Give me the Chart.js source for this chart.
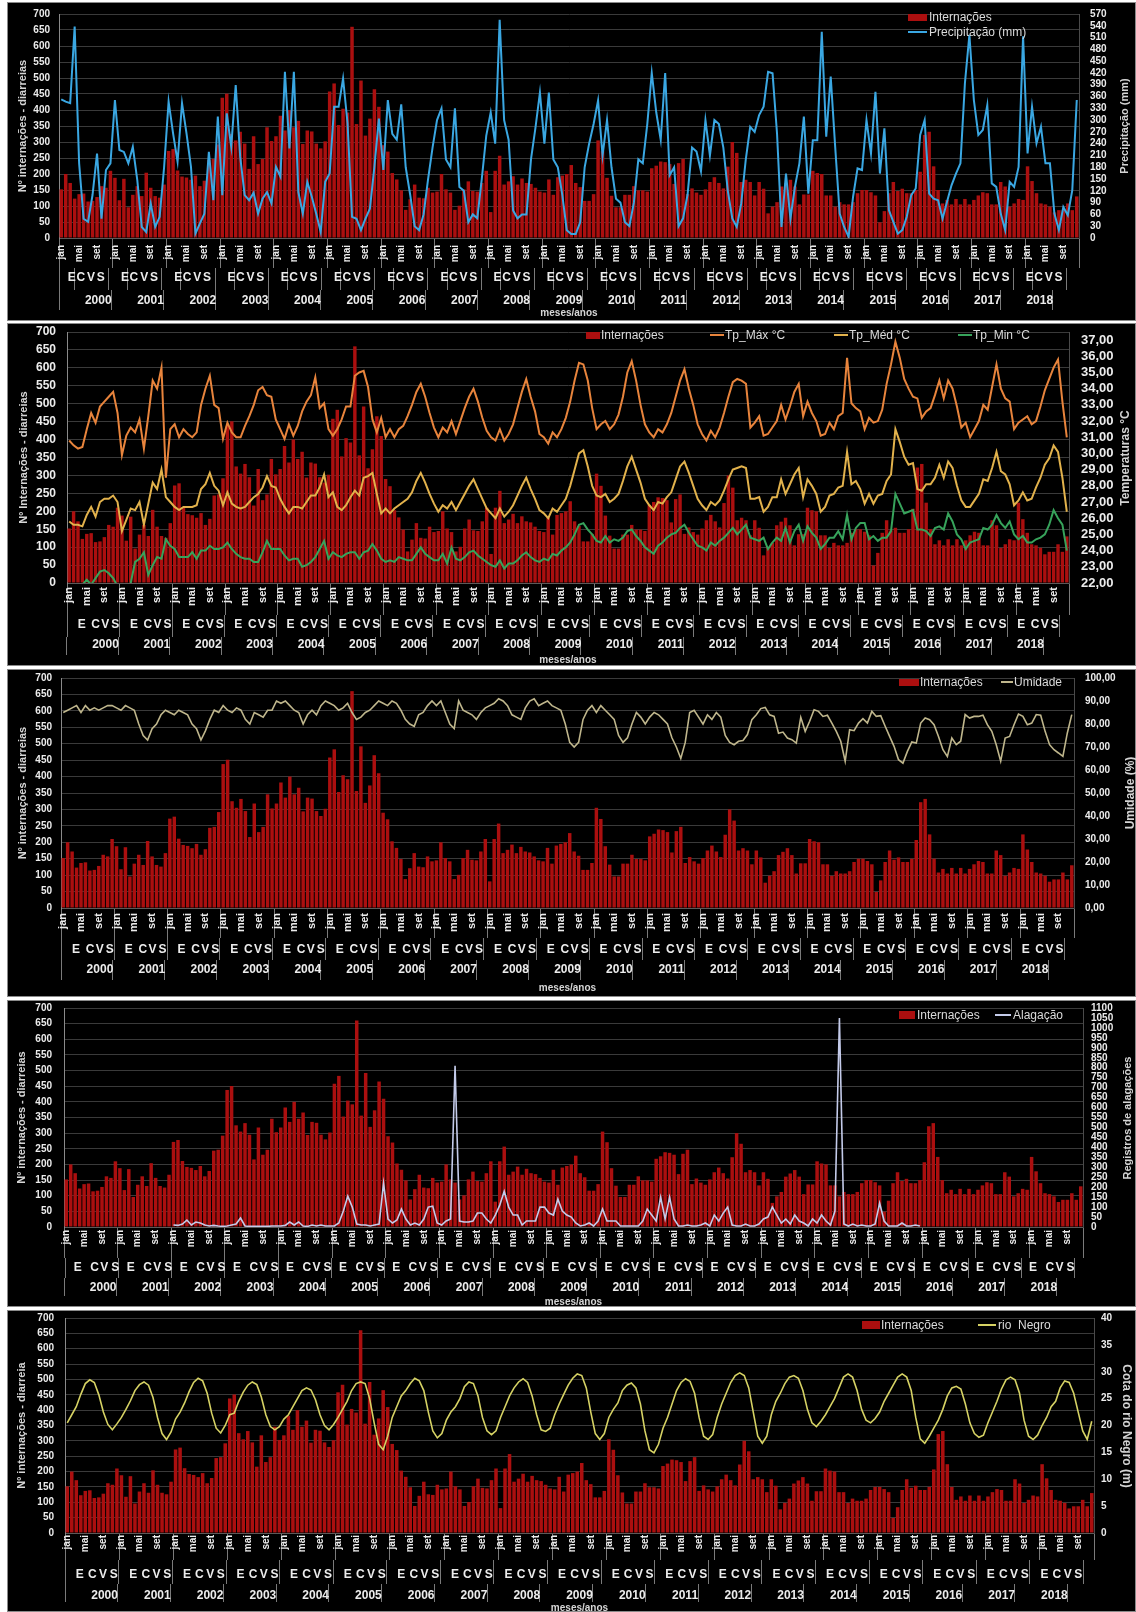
<!DOCTYPE html>
<html lang="pt">
<head>
<meta charset="utf-8">
<title>Internações por diarreia x variáveis ambientais</title>
<script src="https://cdn.jsdelivr.net/npm/chart.js@4.4.1/dist/chart.umd.min.js"></script>
<style>
  html, body { margin:0; padding:0; background:#ffffff; }
  #page { position:relative; width:1136px; height:1612px; overflow:hidden; background:#ffffff;
          font-family:"Liberation Sans", Arial, Helvetica, sans-serif; }
  .panel { position:absolute; left:7px; width:1129px; background:#000; overflow:hidden; }
  .panel canvas { position:absolute; left:0; top:0; }
  .frame { position:absolute; left:0; top:0; right:0; bottom:0; border:1px solid #8a8a8a; pointer-events:none; }
  .legtxt { position:absolute; color:#dadada; font-size:12px; line-height:14px; white-space:pre; }
  .legsw { position:absolute; }
  .rtitle { position:absolute; color:#d4d4d4; font-weight:bold; white-space:nowrap;
            transform:translate(-50%,-50%) rotate(-90deg); }
</style>
</head>
<body>
<div id="page"></div>
<script>
// ======================= DATA =======================
const years = ['2000','2001','2002','2003','2004','2005','2006','2007','2008','2009',
               '2010','2011','2012','2013','2014','2015','2016','2017','2018'];
const monthNames = ['jan','fev','mar','abr','mai','jun','jul','ago','set','out','nov','dez'];
const shownMonths = ['jan','mai','set'];
const seasonLetters = ['E','C','V','S'];

const seriesInternacoes = 'Internações';

// Nº de internações por diarreia (mensal, jan/2000 – dez/2018)
const internacoes = [
  152,200,172,123,137,139,114,116,128,162,157,210,
  188,118,185, 96,135,162,131,204,157,131,126,167,
  272,278,211,192,189,182,195,162,179,244,247,292,
  438,451,325,305,332,295,216,318,231,247,346,303,
  318,382,336,400,346,366,294,336,333,295,280,302,
  458,483,353,404,392,660,356,492,320,373,465,410,
  290,270,203,183,149, 88,121,167,126,124,157,142,
  145,200,152,142, 88,101,152,177,147,145,172,210,
   81,210,257,167,177,193,167,186,172,169,157,145,
  142,183,135,190,195,200,228,172,159,116,116,137,
  305,271,188,132, 96, 96,135,135,162,149,149,145,
  218,226,239,237,231,169,234,247,137,155,142,135,
  152,175,190,172,155,223,300,266,175,182,175,133,
  175,154, 77, 98,112,161,171,182,161,105,136,136,
  210,203,200,133,133, 98,112,105,105,112,140,150,
  150,143,133, 49, 84,140,175,147,154,140,140,150,
  207,322,332,224,150,108,119,105,122,105,122,105,
  119,133,143,140,105,105,175,161, 98,108,122,119,
  224,178,140,108,105, 98, 80, 87, 87,108, 87,130
];

// Precipitação (mm)
const precipitacao = [
  353,347,343,538,190, 49, 41,110,215, 49,173,190,
  351,224,219,190,232,147, 28, 15, 88, 28, 54,181,
  347,266,194,343,266,181, 11, 37, 62,219, 96,309,
  109,317,232,389,207,109, 96,115, 62,100,117, 88,
  181,156,423,228,423,117, 62,143,105, 62, 15,143,
  164,334,334,406,292, 54, 49, 20, 49, 75,181,304,
  173,351,265,250,340,180,110, 30, 20, 60,150,230,
  300,330,200,180,330,130,120, 40, 60, 50,150,260,
  320,240,555,300,250, 70, 50, 60, 60,200,280,370,
  240,370,200,180,110, 20, 10, 10, 40,180,240,290,
  350,210,300,180,100, 90, 40, 30, 90,200,190,290,
  420,320,250,420,160,180, 30, 50,110,230,220,170,
  300,210,300,290,230,120, 50, 28, 88,198,283,270,
  313,334,423,419,266, 28,164, 49,130,190,309,113,
  249,249,525,258,411,232, 62, 28,  3,105,177,173,
  300,215,372,164,279, 71, 41, 11, 20, 54,109,126,
  262,300,113,100, 96, 49, 92,134,164,190,394,517,
  351,262,275,338,139,130, 62, 20,143,130,181,513,
  215,334,241,283,190,190, 62, 20, 79, 58,122,351
];

// Temperaturas (°C)
const tpMax = [
  30.8,30.5,30.3,30.4,31.5,32.5,31.9,32.9,33.2,33.5,33.8,32.5,
  29.9,31.1,31.6,31.3,32.1,30.3,32.3,34.5,34.0,35.3,28.5,31.5,
  31.8,31.0,31.5,31.2,31.0,31.3,33.0,34.0,34.8,33.0,32.8,30.9,
  31.9,31.3,31.0,31.0,31.7,32.3,33.0,33.9,34.1,33.6,33.5,32.1,
  31.5,30.9,31.8,31.1,31.7,32.6,33.2,33.6,34.7,32.8,33.1,31.5,
  31.1,31.5,32.1,32.9,32.9,34.8,35.0,35.1,34.1,32.1,31.3,32.2,
  31.0,31.5,31.0,31.5,31.7,32.3,33.0,33.8,34.3,33.5,32.5,31.6,
  31.0,31.6,31.3,32.0,31.2,32.0,32.8,33.5,34.0,33.2,32.2,31.4,
  31.0,30.8,31.5,30.8,31.2,31.8,32.8,33.8,34.6,33.5,32.6,31.2,
  31.0,30.6,31.3,31.0,31.5,32.2,33.2,34.5,35.6,35.5,34.5,32.8,
  31.5,31.8,32.0,31.5,31.8,32.4,33.5,35.0,35.7,34.5,33.0,31.8,
  31.3,31.0,31.5,31.3,31.8,32.5,33.5,34.5,35.2,34.0,33.0,31.8,
  31.2,30.8,31.4,31.0,31.6,32.5,33.5,34.4,34.6,34.5,34.3,31.6,
  31.9,32.3,31.1,31.2,31.6,32.0,33.0,32.1,32.9,33.8,34.3,32.3,
  33.2,32.5,32.0,31.1,31.2,31.9,31.5,32.3,32.5,35.9,33.1,32.8,
  32.6,31.5,32.2,31.9,32.0,32.7,34.3,35.5,36.9,35.9,34.6,34.0,
  33.5,33.4,32.2,32.6,32.8,33.6,34.5,33.4,34.5,34.0,32.9,31.6,
  31.9,31.0,31.5,32.0,33.0,32.7,34.1,35.5,34.0,33.4,33.2,31.5,
  31.9,32.1,32.3,31.8,32.0,32.9,33.9,34.6,35.3,35.8,33.2,31.0
];
const tpMed = [
  25.8,25.6,25.6,25.5,26.2,26.7,26.1,27.0,27.2,27.2,27.4,27.0,
  25.2,25.9,26.6,26.5,27.0,25.6,26.9,28.2,27.8,29.0,27.3,27.0,
  26.7,26.5,26.7,26.7,26.7,26.8,27.8,28.1,28.8,28.0,27.7,26.8,
  27.6,26.9,26.7,26.6,26.7,27.0,27.3,27.5,27.9,28.6,28.0,27.9,
  27.2,26.7,26.3,26.7,26.7,26.6,27.0,27.4,27.4,27.9,28.7,27.3,
  27.6,26.7,26.5,26.8,27.3,27.7,27.4,28.5,28.6,28.8,27.5,26.3,
  26.6,26.3,26.6,26.8,27.0,27.2,27.6,28.3,28.8,28.2,27.5,26.9,
  26.4,26.8,26.6,27.0,26.5,27.0,27.5,28.0,28.4,27.8,27.2,26.6,
  26.3,26.0,26.6,26.1,26.4,26.8,27.4,28.0,28.5,27.8,27.2,26.5,
  26.3,26.0,26.6,26.4,26.8,27.2,28.0,29.0,30.0,30.2,29.2,28.0,
  27.4,27.3,27.5,27.0,27.2,27.5,28.3,29.2,29.8,29.0,28.2,27.2,
  26.8,26.5,27.0,26.9,27.3,27.6,28.4,29.2,29.5,28.8,28.0,27.2,
  26.8,26.5,27.0,26.8,27.1,27.7,28.4,29.0,29.1,29.2,29.1,27.2,
  27.2,27.3,26.4,26.7,27.3,27.3,28.4,27.5,28.1,28.7,29.1,27.3,
  28.4,28.0,27.5,26.4,26.7,27.4,27.5,27.9,28.0,30.1,28.1,28.3,
  27.8,26.9,27.5,26.9,27.4,27.5,28.3,28.7,31.5,30.7,29.8,29.3,
  29.4,27.8,27.7,28.1,28.1,28.5,29.3,28.5,29.5,29.1,28.0,27.1,
  26.7,26.7,27.1,27.5,28.4,28.3,29.1,30.1,28.9,28.7,28.1,26.8,
  27.1,27.6,27.1,27.2,27.9,28.5,29.3,29.7,30.5,30.1,28.5,26.4
];
const tpMin = [
  21.0,21.2,21.5,21.9,22.2,21.9,22.3,22.7,22.8,22.6,22.3,21.8,
  21.4,21.7,22.0,23.3,23.5,23.9,22.5,23.1,23.6,23.5,24.7,24.3,
  24.1,23.6,23.6,23.6,23.9,23.5,24.0,24.0,24.3,24.1,24.1,24.2,
  24.5,24.1,23.8,23.6,23.5,23.5,23.3,23.3,23.9,24.6,24.1,24.1,
  24.1,23.7,23.4,23.5,23.5,23.0,23.1,23.3,23.6,24.1,24.6,23.5,
  23.9,23.7,23.6,23.8,23.9,23.9,23.5,23.9,24.0,24.4,24.0,23.5,
  23.3,23.4,23.3,23.6,23.5,23.4,23.4,23.8,24.2,23.8,23.6,23.4,
  23.4,23.8,23.2,24.2,23.5,23.4,23.6,23.9,24.0,23.7,23.5,23.3,
  23.1,23.0,23.4,22.9,23.2,23.2,23.4,23.7,23.9,23.6,23.4,23.3,
  23.5,23.4,23.8,23.7,24.0,24.2,24.5,25.0,25.6,25.7,25.3,25.0,
  24.6,24.5,24.9,24.5,24.7,24.6,24.8,25.2,25.3,24.9,24.6,24.2,
  24.0,23.8,24.3,24.5,24.8,25.0,25.1,25.4,25.6,25.1,24.7,24.3,
  24.2,24.0,24.5,24.3,24.6,24.8,25.1,25.4,25.0,25.3,25.6,24.8,
  24.7,24.6,24.8,24.1,24.5,24.8,24.6,25.4,24.5,25.2,25.6,24.6,
  25.5,25.1,24.8,24.1,24.4,24.8,24.8,25.2,24.7,26.2,24.7,25.4,
  25.7,25.7,24.7,24.9,24.6,24.8,24.8,25.2,27.5,26.9,26.3,26.4,
  26.5,25.3,25.3,25.2,24.9,25.4,25.5,25.3,26.3,25.8,25.0,24.7,
  24.1,24.5,24.6,24.7,25.4,25.3,25.6,26.2,25.7,25.4,25.8,25.0,
  24.7,24.9,24.5,24.5,24.7,24.8,25.0,25.6,26.5,26.0,25.6,24.0
];

// Umidade (%)
const umidade = [
  85,86,87,88,85,88,86,87,86,87,88,88,
  87,86,88,87,86,80,75,73,78,80,84,86,
  85,84,86,85,84,80,78,73,77,82,86,85,
  88,86,85,87,86,82,80,85,84,83,86,86,
  90,89,90,88,86,85,80,84,86,84,88,90,
  89,88,86,87,89,85,82,83,85,86,88,90,
  89,88,90,89,86,82,80,79,84,85,88,90,
  88,90,85,80,78,90,86,85,84,82,85,87,
  88,89,91,90,88,84,83,82,87,90,91,88,
  89,90,88,87,86,80,72,70,72,82,86,88,
  85,88,86,84,82,75,72,74,80,85,83,80,
  83,85,84,82,80,74,70,65,72,85,86,83,
  80,84,82,85,83,75,72,71,72.5,72.8,75.4,81.9,
  84,86.7,87.2,84,83.3,76,76.5,73.9,73.2,71.7,82.9,76.8,
  81.2,86.2,85.5,83.3,83.8,80.4,76.8,72.5,63.8,77.5,77.1,80.4,
  82.3,80.4,85.5,83.3,83.6,79,74.6,70.3,64.5,63,68.1,72.2,
  71.7,80.4,82.6,81.9,79.7,74.6,68.8,65.9,73.9,71,72.5,84.1,
  82.6,83.3,83.3,83.8,79.7,76.8,71,63.8,73.9,74.6,79.7,84.3,
  83.3,79.7,80.4,84.1,83.8,76.8,71,68.8,67.4,65.9,76.1,84.1
];

// Registros de alagações (sem registro: null)
const alagacao = [
  null,null,null,null,null,null,null,null,null,null,null,null,
  null,null,null,null,null,null,null,null,null,null,null,null,
  10,8,15,35,10,25,20,10,5,8,5,3,
  5,10,15,45,5,3,3,3,3,3,5,5,
  5,8,25,10,25,5,3,10,5,10,5,5,
  5,20,80,155,100,15,10,10,5,10,15,220,
  40,20,35,90,40,10,20,10,40,100,105,20,
  10,30,40,810,30,25,25,30,70,70,40,20,
  60,110,180,100,60,60,10,30,30,30,100,100,
  70,60,140,80,60,50,20,5,10,20,5,30,
  90,30,30,30,5,5,5,5,5,30,90,60,
  30,150,40,150,40,5,5,10,5,5,10,20,
  5,60,30,70,100,10,5,5,15,5,5,15,
  40,50,100,60,20,40,15,60,30,20,5,40,
  20,60,30,10,80,1050,15,5,15,5,10,5,
  5,15,120,30,5,5,5,20,5,5,10,5,
  null,null,null,null,null,null,null,null,null,null,null,null,
  null,null,null,null,null,null,null,null,null,null,null,null,
  null,null,null,null,null,null,null,null,null,null,null,null
];

// Cota do rio Negro (m)
const rioNegro = [
  20.5,22.0,23.5,25.8,27.8,28.5,28.0,25.7,22.5,20.2,19.2,20.3,
  21.5,23.0,24.6,26.5,27.6,28.1,27.5,25.2,21.5,18.5,17.4,18.8,
  21.2,22.5,24.2,26.3,28.0,28.8,28.3,26.0,22.3,19.5,18.6,20.0,
  22.0,22.3,24.5,26.2,27.5,28.1,27.6,25.3,22.0,19.8,19.2,19.8,
  21.2,22.0,23.5,25.0,26.5,27.0,26.6,24.8,22.0,20.0,19.2,20.2,
  21.5,23.0,24.5,26.5,27.8,28.1,27.8,25.0,20.5,16.5,15.5,18.0,
  21.5,23.5,25.5,26.5,27.8,28.8,28.3,26.5,22.5,19.0,17.7,18.5,
  21.0,22.5,23.5,25.0,27.2,28.1,27.8,25.5,21.5,19.0,18.3,19.0,
  21.5,23.5,25.5,27.0,28.1,28.7,28.0,25.5,22.0,19.2,18.9,19.5,
  22.0,24.0,25.8,27.5,28.8,29.6,29.3,27.0,22.5,18.5,17.4,18.5,
  21.5,23.0,24.2,26.5,27.5,27.9,27.0,24.0,19.0,15.5,14.9,16.5,
  19.5,21.5,24.0,26.5,28.0,28.7,28.2,26.0,21.5,18.0,17.4,18.3,
  21.5,24.0,26.0,28.0,29.3,29.8,29.3,27.0,22.5,18.0,16.7,18.0,
  22.0,24.5,26.0,27.8,29.0,29.3,28.8,26.5,23.0,20.5,19.8,20.8,
  22.0,23.5,25.0,27.0,29.0,29.6,29.0,26.5,23.0,21.0,20.5,21.3,
  22.5,24.5,26.0,27.5,29.0,29.6,29.0,26.5,21.5,17.5,16.7,18.0,
  19.5,21.0,23.0,25.5,27.0,27.3,26.8,24.0,20.5,18.5,17.8,18.2,
  20.5,22.5,24.5,26.8,28.5,29.0,28.5,26.0,21.0,18.0,17.4,18.2,
  20.0,21.5,23.5,24.5,27.0,28.3,28.0,26.0,22.5,19.0,17.4,20.8
];

// ======================= STYLE / LAYOUT =======================
const FONT = '"Liberation Sans", Arial, Helvetica, sans-serif';
const TXT = '#ececec';
const TITLE = '#d6d6d6';
const GRID = '#3a3a3a';
const SEP = '#7a7a7a';
const AXIS = '#8a8a8a';
const BAR = '#ab0f0f';
const PANEL_X = 7, CANVAS_W = 1129;

const monthLabels = years.flatMap(() => monthNames);
const N = monthLabels.length;

function seasonTickList(pos, extraSep) {
  const list = [];
  years.forEach((yr, y) => {
    list.push({ value: 12 * y - 0.5, sep: true, text: '' });
    (extraSep || []).forEach(e => list.push({ value: 12 * y - 0.5 + e, sep: true, text: '' }));
    seasonLetters.forEach((s, k) => list.push({ value: 12 * y - 0.5 + pos[k], sep: false, text: s }));
  });
  list.push({ value: 12 * years.length - 0.5, sep: true, text: '' });
  list.sort((a, b) => a.value - b.value);
  return list;
}
function yearTickList() {
  const list = [];
  years.forEach((yr, y) => {
    list.push({ value: 12 * y - 0.5, sep: true, text: '' });
    list.push({ value: 12 * y + 5.5, sep: false, text: yr });
  });
  list.push({ value: 12 * years.length - 0.5, sep: true, text: '' });
  return list;
}

const PANELS = [
  { top: 2, h: 319, area: { l: 52, r: 1072, t: 12, b: 236 },
    t1: 30, p1: -23, t2: 22, p2: -19.2, t3: 20, p3: -16.6, tb: 2,
    fm: 10, fs: 12, fyr: 12, ft: 10, fl: 10, fr: 10, ftl: 11,
    padL: 9, padR: 11, titlePad: 9.4, seasonPos: [1.9, 3.9, 6.2, 8.4], extraSep: [3.1],
    yTitle: 'Nº internações - diarreias',
    right: { min: 0, max: 570, step: 30, dec: 0, title: 'Precipitação (mm)', tx: 1124, tsize: 11 },
    lines: [{ label: 'Precipitação (mm)', data: precipitacao, color: '#3aa7e2', width: 2 }],
    legend: [{ k: 'box', ds: 0, x: 908, y: 17, w: 19, h: 7, tx: 929 },
             { k: 'line', ds: 1, x: 908, y: 32, w: 19, tx: 929 }] },
  { top: 323, h: 343, area: { l: 60, r: 1062, t: 9, b: 260 },
    t1: 32, p1: -28, t2: 22, p2: -19.2, t3: 18, p3: -17.2, tb: 0,
    fm: 11, fs: 12, fyr: 12, ft: 10, fl: 12, fr: 13, ftl: 11,
    padL: 11, padR: 12, titlePad: 10.4, seasonPos: [2.2, 5.4, 7.6, 9.9],
    yTitle: 'Nº Internações - diarreias',
    right: { min: 22, max: 37.5, step: 1, dec: 2, cap: 37, title: 'Temperaturas °C', tx: 1125, tsize: 12 },
    lines: [{ label: 'Tp_Máx °C', data: tpMax, color: '#e8843c', width: 2 },
            { label: 'Tp_Méd °C', data: tpMed, color: '#e2b24c', width: 2 },
            { label: 'Tp_Min °C', data: tpMin, color: '#37a35b', width: 2 }],
    legend: [{ k: 'box', ds: 0, x: 586, y: 335, w: 14, h: 7, tx: 601 },
             { k: 'line', ds: 1, x: 710, y: 335, w: 14, tx: 725 },
             { k: 'line', ds: 2, x: 834, y: 335, w: 14, tx: 849 },
             { k: 'line', ds: 3, x: 958, y: 335, w: 14, tx: 973 }] },
  { top: 669, h: 328, area: { l: 54, r: 1067, t: 9, b: 239 },
    t1: 30, p1: -25, t2: 22, p2: -17.2, t3: 20, p3: -17.2, tb: 3,
    fm: 11, fs: 12, fyr: 12, ft: 10, fl: 10, fr: 10, ftl: 11,
    padL: 9, padR: 11, titlePad: 9.4, seasonPos: [2.2, 5.4, 7.6, 9.9],
    yTitle: 'Nº internações - diarreias',
    right: { min: 0, max: 100, step: 10, dec: 2, title: 'Umidade (%)', tx: 1130, tsize: 12 },
    lines: [{ label: 'Umidade', data: umidade, color: '#bfb68c', width: 1.6 }],
    legend: [{ k: 'box', ds: 0, x: 899, y: 682, w: 20, h: 7, tx: 920 },
             { k: 'line', ds: 1, x: 1001, y: 682, w: 12, tx: 1014 }] },
  { top: 1000, h: 307, area: { l: 57, r: 1076, t: 8, b: 227 },
    t1: 31, p1: -28, t2: 20, p2: -17.2, t3: 18, p3: -15.2, tb: -1,
    fm: 10, fs: 12, fyr: 12, ft: 10, fl: 10, fr: 10, ftl: 11,
    padL: 12, padR: 8, titlePad: 8.4, seasonPos: [1.9, 5.7, 7.9, 10.4],
    yTitle: 'Nº internações - diarreias',
    right: { min: 0, max: 1100, step: 50, dec: 0, title: 'Registros de alagações', tx: 1127, tsize: 11 },
    lines: [{ label: 'Alagação', data: alagacao, color: '#c4cbea', width: 1.6 }],
    legend: [{ k: 'box', ds: 0, x: 899, y: 1015, w: 16, h: 8, tx: 917 },
             { k: 'line', ds: 1, x: 995, y: 1015, w: 16, tx: 1013 }] },
  { top: 1310, h: 302, area: { l: 58, r: 1087, t: 8, b: 223 },
    t1: 27, p1: -25, t2: 24, p2: -16.2, t3: 18, p3: -13.2, tb: -2,
    fm: 10, fs: 12, fyr: 12, ft: 10, fl: 10, fr: 10, ftl: 11,
    padL: 11, padR: 7, titlePad: 8.4, seasonPos: [2.1, 4.9, 7.3, 9.7],
    yTitle: 'Nº internações - diarreia',
    right: { min: 0, max: 40, step: 5, dec: 0, title: 'Cota do rio Negro (m)', tx: 1127, tsize: 12, down: true },
    lines: [{ label: 'rio  Negro', data: rioNegro, color: '#d6d264', width: 1.6 }],
    legend: [{ k: 'box', ds: 0, x: 862, y: 1325, w: 18, h: 8, tx: 881 },
             { k: 'line', ds: 1, x: 978, y: 1325, w: 18, tx: 998 }] }
];

const noPad = s => { s.paddingTop = 0; s.paddingBottom = 0; s.paddingLeft = 0; s.paddingRight = 0; };

function buildPanel(P) {
  const page = document.getElementById('page');
  const panel = document.createElement('div');
  panel.className = 'panel';
  panel.style.top = P.top + 'px';
  panel.style.height = P.h + 'px';
  page.appendChild(panel);

  const cv = document.createElement('canvas');
  cv.width = CANVAS_W; cv.height = P.h;
  cv.style.width = CANVAS_W + 'px'; cv.style.height = P.h + 'px';
  panel.appendChild(cv);

  const sTicks = seasonTickList(P.seasonPos, P.extraSep);
  const yTicks = yearTickList();
  const h3 = P.h - P.area.b - P.t1 - P.t2;
  const tickFont = (size) => ({ family: FONT, size: size, weight: 'bold' });

  const datasets = [{
    type: 'bar', label: seriesInternacoes, data: internacoes,
    backgroundColor: BAR, borderWidth: 0, barPercentage: 0.78, categoryPercentage: 1.0,
    xAxisID: 'x', yAxisID: 'y', order: 2
  }].concat(P.lines.map(L => ({
    type: 'line', label: L.label, data: L.data, borderColor: L.color, backgroundColor: L.color,
    borderWidth: L.width, pointRadius: 0, tension: 0, spanGaps: false, fill: false,
    xAxisID: 'x', yAxisID: 'y1', order: 1
  })));

  const R = P.right;
  const rightTickValues = [];
  const topTick = (R.cap !== undefined) ? R.cap : R.max;
  for (let k = 0; R.min + k * R.step <= topTick + 1e-9; k++) rightTickValues.push(R.min + k * R.step);

  new Chart(cv.getContext('2d'), {
    type: 'bar',
    data: { labels: monthLabels, datasets },
    options: {
      responsive: false, maintainAspectRatio: false, animation: false, devicePixelRatio: 1,
      layout: { padding: { top: P.area.t, left: 0, right: 0, bottom: 0 } },
      plugins: { legend: { display: false }, tooltip: { enabled: false } },
      scales: {
        x: {
          type: 'category', position: 'bottom', weight: 0, offset: true,
          grid: { display: true, drawOnChartArea: false, drawTicks: true, tickLength: P.t1, offset: true,
                  lineWidth: 1,
                  color: c => (c.index === undefined || c.index % 12 === 0) ? SEP : 'rgba(0,0,0,0)' },
          border: { display: true, color: '#5a5a5a' },
          ticks: { autoSkip: false, minRotation: 90, maxRotation: 90, padding: P.p1, color: TXT,
                   font: tickFont(P.fm),
                   callback: (v, i) => shownMonths.includes(monthLabels[i]) ? monthLabels[i] : '' },
          afterFit: s => { s.height = P.t1; noPad(s); }
        },
        xs: {
          type: 'linear', position: 'bottom', weight: 1, min: -0.5, max: N - 0.5,
          afterBuildTicks: s => { s.ticks = sTicks.map(t => ({ value: t.value })); },
          grid: { display: true, drawOnChartArea: false, drawTicks: true, tickLength: P.t2, lineWidth: 1,
                  color: c => (sTicks[c.index] && sTicks[c.index].sep) ? SEP : 'rgba(0,0,0,0)' },
          border: { display: false },
          ticks: { autoSkip: false, minRotation: 0, maxRotation: 0, padding: P.p2, color: TXT,
                   font: tickFont(P.fs), callback: (v, i) => sTicks[i] ? sTicks[i].text : '' },
          afterFit: s => { s.height = P.t2; noPad(s); }
        },
        xy: {
          type: 'linear', position: 'bottom', weight: 2, min: -0.5, max: N - 0.5,
          afterBuildTicks: s => { s.ticks = yTicks.map(t => ({ value: t.value })); },
          grid: { display: true, drawOnChartArea: false, drawTicks: true, tickLength: P.t3, lineWidth: 1,
                  color: c => (yTicks[c.index] && yTicks[c.index].sep) ? SEP : 'rgba(0,0,0,0)' },
          border: { display: false },
          ticks: { autoSkip: false, minRotation: 0, maxRotation: 0, padding: P.p3, color: TXT,
                   font: tickFont(P.fyr), callback: (v, i) => yTicks[i] ? yTicks[i].text : '' },
          title: { display: true, text: 'meses/anos', color: TITLE, font: tickFont(P.ft),
                   padding: { top: 0, bottom: P.tb } },
          afterFit: s => { s.height = h3; noPad(s); }
        },
        y: {
          type: 'linear', position: 'left', min: 0, max: 700,
          ticks: { stepSize: 50, autoSkip: false, color: TXT, font: tickFont(P.fl), padding: P.padL },
          grid: { color: GRID, lineWidth: 1, drawTicks: false },
          border: { display: true, color: AXIS },
          title: { display: true, text: P.yTitle, color: TITLE, font: tickFont(P.ftl),
                   padding: { top: P.titlePad, bottom: 0 } },
          afterFit: s => { s.width = P.area.l; noPad(s); }
        },
        y1: {
          type: 'linear', position: 'right', min: R.min, max: R.max,
          afterBuildTicks: s => { s.ticks = rightTickValues.map(v => ({ value: v })); },
          ticks: { stepSize: R.step, autoSkip: false, color: TXT, font: tickFont(P.fr), padding: P.padR,
                   callback: v => R.dec ? Number(v).toFixed(R.dec).replace('.', ',') : String(v) },
          grid: { drawOnChartArea: false, drawTicks: false },
          border: { display: true, color: '#4a4a4a' },
          afterFit: s => { s.width = CANVAS_W - P.area.r; noPad(s); }
        }
      }
    }
  });

  const fr = document.createElement('div');
  fr.className = 'frame';
  panel.appendChild(fr);

  P.legend.forEach(item => {
    const ds = datasets[item.ds];
    const sw = document.createElement('div');
    sw.className = 'legsw';
    const lx = item.x - PANEL_X, ly = item.y - P.top;
    if (item.k === 'box') {
      sw.style.left = lx + 'px'; sw.style.top = (ly - item.h / 2) + 'px';
      sw.style.width = item.w + 'px'; sw.style.height = item.h + 'px';
      sw.style.background = ds.backgroundColor;
    } else {
      sw.style.left = lx + 'px'; sw.style.top = (ly - 1) + 'px';
      sw.style.width = item.w + 'px'; sw.style.height = '2px';
      sw.style.background = ds.borderColor;
    }
    panel.appendChild(sw);
    const tx = document.createElement('div');
    tx.className = 'legtxt';
    tx.style.left = (item.tx - PANEL_X) + 'px';
    tx.style.top = (ly - 7) + 'px';
    tx.textContent = ds.label;
    panel.appendChild(tx);
  });

  const rt = document.createElement('div');
  rt.className = 'rtitle';
  rt.textContent = R.title;
  rt.style.fontSize = R.tsize + 'px';
  rt.style.left = (R.tx - PANEL_X) + 'px';
  rt.style.top = ((P.area.t + P.area.b) / 2) + 'px';
  if (R.down) rt.style.transform = 'translate(-50%,-50%) rotate(90deg)';
  panel.appendChild(rt);
}

PANELS.forEach(buildPanel);
</script>
</body>
</html>
